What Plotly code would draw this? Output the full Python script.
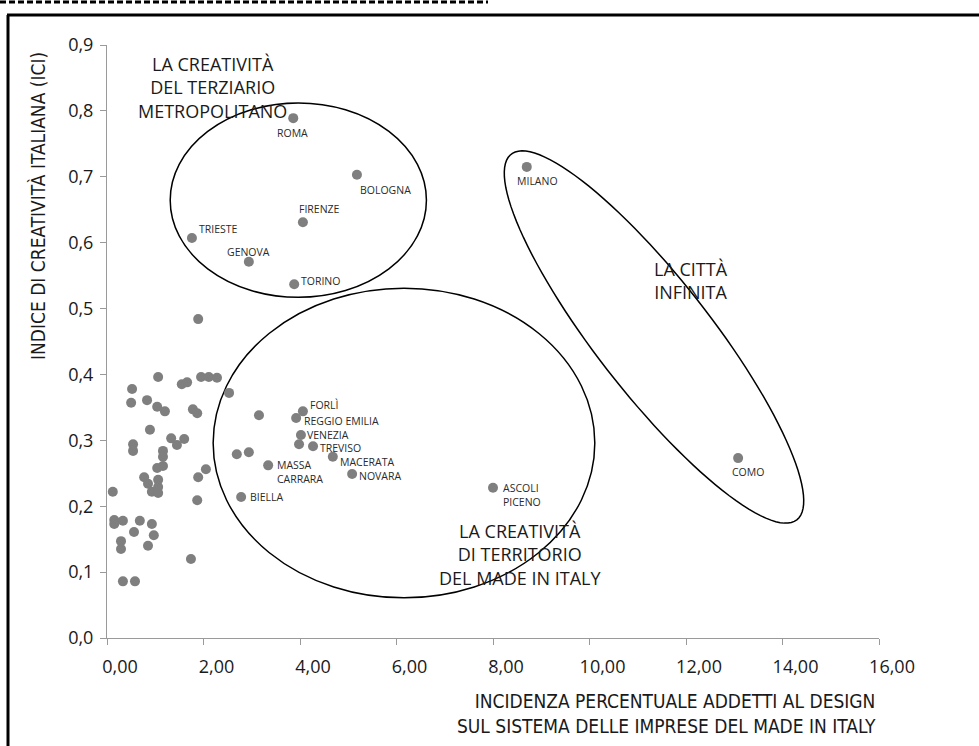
import numpy as np
import plotly.graph_objects as go

# ---------------- data ----------------
city_names = ["ROMA", "BOLOGNA", "FIRENZE", "TRIESTE", "GENOVA", "TORINO",
              "MILANO", "COMO", "ASCOLI<br>PICENO", "FORLÌ", "REGGIO EMILIA",
              "VENEZIA", "TREVISO", "MACERATA", "NOVARA", "MASSA<br>CARRARA", "BIELLA"]
city_x = [3.86, 5.18, 4.06, 1.76, 2.94, 3.88,
          8.70, 13.08, 8.00, 4.06, 3.92,
          4.02, 4.27, 4.68, 5.08, 3.34, 2.78]
city_y = [0.789, 0.703, 0.631, 0.607, 0.571, 0.537,
          0.715, 0.273, 0.228, 0.344, 0.334,
          0.308, 0.291, 0.275, 0.249, 0.262, 0.214]

other_x = [3.98, 1.89, 1.06, 1.95, 2.11, 2.28, 1.55, 1.66, 0.52, 0.83, 0.50,
           2.53, 1.04, 1.20, 1.78, 1.87, 0.89, 3.15, 1.33, 1.45, 1.60, 0.54,
           0.54, 1.16, 1.16, 2.69, 2.94, 1.16, 1.04, 0.77, 1.89, 2.05, 0.85,
           0.93, 1.06, 1.06, 1.06, 0.12, 1.87, 0.33, 0.15, 0.15, 0.68, 0.93,
           0.56, 0.97, 0.29, 0.29, 0.85, 1.74, 0.33, 0.58]
other_y = [0.294, 0.484, 0.396, 0.396, 0.396, 0.395, 0.385, 0.388, 0.378, 0.361, 0.357,
           0.372, 0.351, 0.344, 0.347, 0.341, 0.316, 0.338, 0.303, 0.293, 0.302, 0.294,
           0.284, 0.284, 0.275, 0.279, 0.282, 0.261, 0.258, 0.244, 0.244, 0.256, 0.234,
           0.222, 0.240, 0.229, 0.220, 0.222, 0.209, 0.178, 0.179, 0.173, 0.178, 0.173,
           0.161, 0.156, 0.147, 0.135, 0.140, 0.120, 0.086, 0.086]

x_ticks = [0, 2, 4, 6, 8, 10, 12, 14, 16]
x_ticktext = ["0,00", "2,00", "4,00", "6,00", "8,00", "10,00", "12,00", "14,00", "16,00"]
y_ticks = [0.0, 0.1, 0.2, 0.3, 0.4, 0.5, 0.6, 0.7, 0.8, 0.9]
y_ticktext = ["0,0", "0,1", "0,2", "0,3", "0,4", "0,5", "0,6", "0,7", "0,8", "0,9"]

# label placement (style): xanchor, xshift, yshift in px
label_style = [("center", -1, -15), ("left", 2, -15), ("left", -5, 13), ("left", 6, 9),
               ("center", 0, 10), ("left", 6, 3), ("left", -11, -14), ("center", 10, -14),
               ("left", 9, -7), ("left", 6, 6), ("left", 7, -3), ("left", 5, 0),
               ("left", 6, -2), ("left", 6, -5), ("left", 6, -2), ("left", 8, -7),
               ("left", 8, 0)]

# ---------------- layout geometry ----------------
W, H = 979, 746
L, R, T, B = 107, 100, 45, 108
PW, PH = W - L - R, H - T - B
XR, YR = (0, 16), (0, 0.9)
pxx = PW / (XR[1] - XR[0])
pxy = PH / (YR[1] - YR[0])


def paper_x(px):
    return (px - L) / PW


def paper_y(py):
    return (H - B - py) / PH


SANS = "Open Sans, Noto Sans, sans-serif"
NARROW = "Liberation Sans Narrow, DejaVu Sans Condensed, Roboto Condensed, Open Sans, sans-serif"

fig = go.Figure()
fig.add_trace(go.Scatter(x=other_x, y=other_y, mode="markers",
                         marker=dict(size=10, color="#7f7f7f"), cliponaxis=False,
                         hoverinfo="x+y", showlegend=False))
fig.add_trace(go.Scatter(x=city_x, y=city_y, mode="markers", text=city_names,
                         marker=dict(size=10, color="#7f7f7f"), cliponaxis=False,
                         hoverinfo="text+x+y", showlegend=False))

annotations = []
for name, x, y, (xa, xs, ys) in zip(city_names, city_x, city_y, label_style):
    annotations.append(dict(x=x, y=y, xref="x", yref="y", text=name, showarrow=False,
                            xanchor=xa, yanchor="middle", xshift=xs, yshift=ys,
                            align="left", borderpad=0,
                            font=dict(family=SANS, size=10.5, color="#2a2a2a")))

group_font = dict(family=SANS, size=18, color="#1a1a1a")
annotations += [
    dict(x=2.18, y=0.835, xref="x", yref="y", showarrow=False, align="center",
         text="LA CREATIVITÀ<br>DEL TERZIARIO<br>METROPOLITANO", font=group_font),
    dict(x=12.10, y=0.542, xref="x", yref="y", showarrow=False, align="center",
         text="LA CITTÀ<br>INFINITA", font=group_font),
    dict(x=8.56, y=0.126, xref="x", yref="y", showarrow=False, align="center",
         text="LA CREATIVITÀ<br>DI TERRITORIO<br>DEL MADE IN ITALY", font=group_font),
    dict(x=paper_x(878), y=paper_y(713), xref="paper", yref="paper", showarrow=False,
         xanchor="right", yanchor="middle", align="right",
         text="INCIDENZA PERCENTUALE ADDETTI AL DESIGN<br>SUL SISTEMA DELLE IMPRESE DEL MADE IN ITALY",
         font=dict(family=NARROW, size=19, color="#1a1a1a")),
    dict(x=paper_x(38), y=paper_y(206), xref="paper", yref="paper", showarrow=False,
         xanchor="center", yanchor="middle", textangle=-90,
         text="INDICE DI CREATIVITÀ ITALIANA (ICI)",
         font=dict(family=NARROW, size=19, color="#1a1a1a")),
]

# ellipses (annotation outlines)
shapes = [
    dict(type="circle", xref="x", yref="y", x0=1.31, x1=6.62, y0=0.517, y1=0.812,
         line=dict(color="black", width=1.5), layer="below"),
    dict(type="circle", xref="x", yref="y", x0=2.20, x1=10.11, y0=0.061, y1=0.531,
         line=dict(color="black", width=1.5), layer="below"),
]
# rotated ellipse for "la città infinita" (defined in screen px, converted to data)
cxp, cyp, a, b, ang = 654, 337, 232, 57, np.deg2rad(52)
t = np.linspace(0, 2 * np.pi, 120)
ex = cxp + a * np.cos(t) * np.cos(ang) - b * np.sin(t) * np.sin(ang)
ey = cyp + a * np.cos(t) * np.sin(ang) + b * np.sin(t) * np.cos(ang)
dx = (ex - L) / pxx
dy = (H - B - ey) / pxy
path = "M " + " L ".join(f"{u:.4f},{v:.5f}" for u, v in zip(dx, dy)) + " Z"
shapes.append(dict(type="path", xref="x", yref="y", path=path,
                   line=dict(color="black", width=1.5), layer="below"))

# page decorations: frame and dashed rule
shapes += [
    dict(type="line", xref="paper", yref="paper", x0=paper_x(8), x1=paper_x(8),
         y0=paper_y(760), y1=paper_y(15), line=dict(color="black", width=3)),
    dict(type="line", xref="paper", yref="paper", x0=paper_x(7), x1=paper_x(990),
         y0=paper_y(15), y1=paper_y(15), line=dict(color="black", width=3)),
    dict(type="line", xref="paper", yref="paper", x0=paper_x(0), x1=paper_x(488),
         y0=paper_y(2), y1=paper_y(2), line=dict(color="black", width=3, dash="6px,3px")),
]

axis_common = dict(showgrid=False, zeroline=False, showline=True, linecolor="#9a9a9a",
                   linewidth=1, ticks="outside", tickcolor="#9a9a9a", ticklen=6,
                   tickfont=dict(family=SANS, size=18, color="#1a1a1a"))

fig.update_layout(
    width=W, height=H, margin=dict(l=L, r=R, t=T, b=B),
    paper_bgcolor="white", plot_bgcolor="white",
    xaxis=dict(range=list(XR), tickvals=x_ticks, ticktext=x_ticktext,
               ticklabelshift=13, ticklabelstandoff=6, **axis_common),
    yaxis=dict(range=list(YR), tickvals=y_ticks, ticktext=y_ticktext,
               ticklabelstandoff=3, **axis_common),
    annotations=annotations, shapes=shapes, showlegend=False,
)

fig.write_html("out.html", config={"displayModeBar": False},
               post_script="document.body.style.margin='0px';"
                           "document.documentElement.style.overflow='hidden';")
